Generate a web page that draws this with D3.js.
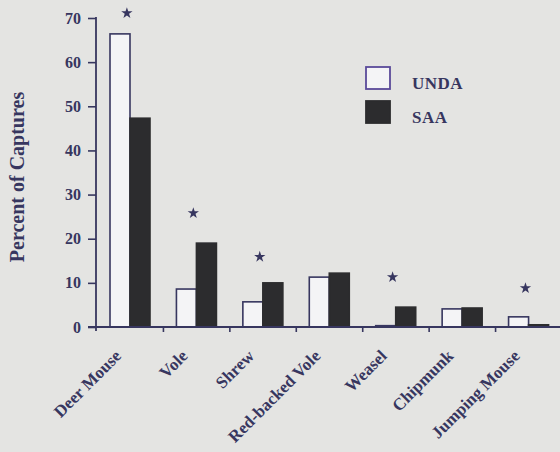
<!DOCTYPE html>
<html>
<head>
<meta charset="utf-8">
<script src="https://cdn.jsdelivr.net/npm/d3@7"></script>
<style>
  body { margin: 0; background: #e4e4e2; }
  svg { display: block; }
  text { font-family: "Liberation Serif", "DejaVu Serif", serif; fill: #37365f; }
</style>
</head>
<body>
<div id="chart"></div>
<script>
var categories = ["Deer Mouse", "Vole", "Shrew", "Red-backed Vole", "Weasel", "Chipmunk", "Jumping Mouse"];
var series = ["UNDA", "SAA"];
var unda = [66.4, 8.6, 5.7, 11.3, 0.3, 4.1, 2.3];
var saa = [47.3, 19.0, 10.0, 12.2, 4.5, 4.3, 0.5];
var starCats = ["Deer Mouse", "Vole", "Shrew", "Weasel", "Jumping Mouse"];
var starVals = [71.1, 25.8, 15.9, 11.3, 8.8];
var yTicks = [0, 10, 20, 30, 40, 50, 60, 70];

var width = 560, height = 452;

var svg = d3.select("#chart")
  .append("svg")
    .attr("width", width)
    .attr("height", height);

// scales
var x = d3.scaleBand()
  .domain(categories)
  .range([97, 562])
  .paddingInner(0);

var xSub = d3.scaleBand()
  .domain(series)
  .range([13, 53]);

var y = d3.scaleLinear()
  .domain([0, 70])
  .range([327, 18]);

var ink = "#37365f";

// bars
var rows = categories.map(function(c, i) { return {cat: c, UNDA: unda[i], SAA: saa[i]}; });

var groups = svg.append("g").selectAll("g")
  .data(rows)
  .enter().append("g")
    .attr("transform", function(d) { return "translate(" + x(d.cat) + ",0)"; });

groups.selectAll("rect")
  .data(function(d) { return series.map(function(s) { return {key: s, value: d[s]}; }); })
  .enter().append("rect")
    .attr("x", function(d) { return xSub(d.key); })
    .attr("y", function(d) { return y(d.value); })
    .attr("width", xSub.bandwidth())
    .attr("height", function(d) { return y(0) - y(d.value); })
    .attr("fill", function(d) { return d.key == "UNDA" ? "#f4f4f6" : "#2c2c2e"; })
    .attr("stroke", function(d) { return d.key == "UNDA" ? ink : "#2c2c2e"; })
    .attr("stroke-width", 1.6);

// y axis
var yAxis = d3.axisLeft(y)
  .tickValues(yTicks)
  .tickSize(8)
  .tickPadding(7);

var gy = svg.append("g")
  .attr("transform", "translate(96,0)")
  .call(yAxis);
gy.select(".domain").remove();
gy.selectAll("line").attr("stroke", ink).attr("stroke-width", 1.6);
gy.selectAll("text")
  .attr("font-size", 16)
  .attr("font-weight", "bold")
  .style("font-family", "'Liberation Serif', serif")
  .attr("fill", ink);

// axis lines
svg.append("line")
  .attr("x1", 96).attr("x2", 96)
  .attr("y1", y(70) - 1).attr("y2", y(0) + 4)
  .attr("stroke", ink).attr("stroke-width", 1.8);
svg.append("line")
  .attr("x1", 88).attr("x2", 560)
  .attr("y1", y(0)).attr("y2", y(0))
  .attr("stroke", ink).attr("stroke-width", 1.8);

// x ticks between categories
svg.append("g").selectAll("line")
  .data(categories.slice(1))
  .enter().append("line")
    .attr("x1", function(d) { return x(d); })
    .attr("x2", function(d) { return x(d); })
    .attr("y1", y(0))
    .attr("y2", y(0) + 5)
    .attr("stroke", ink)
    .attr("stroke-width", 1.6);

// category labels
svg.append("g").selectAll("text")
  .data(categories)
  .enter().append("text")
    .attr("transform", function(d) {
      return "translate(" + (x(d) + x.bandwidth() / 2 - 8) + "," + 357 + ") rotate(-45)";
    })
    .attr("text-anchor", "end")
    .attr("font-size", 17)
    .attr("font-weight", "bold")
    .text(function(d) { return d; });

// significance stars
svg.append("g").selectAll("path")
  .data(starCats.map(function(c, i) { return {cat: c, v: starVals[i]}; }))
  .enter().append("path")
    .attr("transform", function(d) {
      return "translate(" + (x(d.cat) + x.bandwidth() * 0.45) + "," + y(d.v) + ")";
    })
    .attr("d", d3.symbol().type(d3.symbolStar).size(40))
    .attr("fill", ink);

// y label
svg.append("text")
  .attr("transform", "translate(24,177) rotate(-90)")
  .attr("text-anchor", "middle")
  .attr("font-size", 20)
  .attr("font-weight", "bold")
  .text("Percent of Captures");

// legend
var legend = svg.append("g").selectAll("g")
  .data(series)
  .enter().append("g")
    .attr("transform", function(d, i) { return "translate(366," + (67 + i * 34) + ")"; });

legend.append("rect")
  .attr("width", 24)
  .attr("height", 22)
  .attr("fill", function(d) { return d == "UNDA" ? "#f4f4f6" : "#2c2c2e"; })
  .attr("stroke", function(d) { return d == "UNDA" ? "#5a4a9a" : "#2c2c2e"; })
  .attr("stroke-width", 1.8);

legend.append("text")
  .attr("x", 46)
  .attr("y", 22)
  .attr("font-size", 17)
  .attr("font-weight", "bold")
  .attr("letter-spacing", 0.5)
  .text(function(d) { return d; });
</script>
</body>
</html>
